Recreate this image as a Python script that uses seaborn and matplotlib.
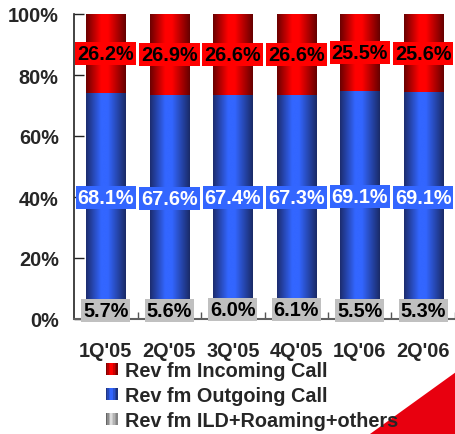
import numpy as np
import pandas as pd
import matplotlib
matplotlib.use("Agg")
import matplotlib.pyplot as plt
import seaborn as sns
from matplotlib.colors import LinearSegmentedColormap
from matplotlib.legend_handler import HandlerBase
from matplotlib.patches import Rectangle, Polygon

# ---- data ----
quarters = ["1Q'05", "2Q'05", "3Q'05", "4Q'05", "1Q'06", "2Q'06"]
incoming = [26.2, 26.9, 26.6, 26.6, 25.5, 25.6]
outgoing = [68.1, 67.6, 67.4, 67.3, 69.1, 69.1]
others = [5.7, 5.6, 6.0, 6.1, 5.5, 5.3]
series_names = ["Rev fm Incoming Call", "Rev fm Outgoing Call", "Rev fm ILD+Roaming+others"]
yticks = [0, 20, 40, 60, 80, 100]
ytick_labels = ["0%", "20%", "40%", "60%", "80%", "100%"]

sns.set_theme(style="white")
plt.rcParams["font.family"] = ["Liberation Sans", "DejaVu Sans"]
plt.rcParams["font.weight"] = "bold"

FS = 14.3

df = pd.DataFrame({"quarter": quarters, "incoming": incoming,
                   "outgoing": outgoing, "others": others})
df["top_out"] = df["others"] + df["outgoing"]
df["top_in"] = df["top_out"] + df["incoming"]

fig = plt.figure(figsize=(4.56, 4.35), dpi=100)
ax = fig.add_axes([74 / 456, 1 - 320 / 435, 381 / 456, 305 / 435])

red_cmap = LinearSegmentedColormap.from_list(
    "r", [(0, "#6a0000"), (0.38, "#ff0000"), (0.55, "#ff0000"), (1, "#650000")])
blue_cmap = LinearSegmentedColormap.from_list(
    "b", [(0, "#1c2c6e"), (0.38, "#3366ff"), (0.55, "#3366ff"), (1, "#1a2a66")])
gray_cmap = LinearSegmentedColormap.from_list(
    "g", [(0, "#505050"), (0.45, "#e0e0e0"), (1, "#7a7a7a")])

layers = [("top_in", red_cmap, 2), ("top_out", blue_cmap, 3), ("others", gray_cmap, 4)]
grad = np.linspace(0, 1, 256).reshape(1, -1)
for col, cmap, z in layers:
    n_before = len(ax.patches)
    sns.barplot(data=df, x="quarter", y=col, color=cmap(0.45), width=0.62,
                ax=ax, errorbar=None, saturation=1)
    for p in ax.patches[n_before:]:
        x0, w, h = p.get_x(), p.get_width(), p.get_height()
        p.set_visible(False)
        ax.imshow(grad, cmap=cmap, extent=(x0, x0 + w, 0, min(h, 100)),
                  aspect="auto", interpolation="bilinear", zorder=z)

ax.set_xlim(-0.5, len(quarters) - 0.5)
ax.set_ylim(0, 100)

# value labels
for i in range(len(quarters)):
    ax.text(i, others[i] / 2, f"{others[i]:.1f}%", ha="center", va="center",
            fontsize=FS, fontweight="bold", color="black", zorder=10,
            bbox=dict(boxstyle="square,pad=0.1", fc="#c0c0c0", ec="none"))
    ax.text(i, others[i] + outgoing[i] / 2, f"{outgoing[i]:.1f}%", ha="center",
            va="center", fontsize=FS, fontweight="bold", color="white", zorder=10,
            bbox=dict(boxstyle="square,pad=0.1", fc="#3366ff", ec="none"))
    ax.text(i, others[i] + outgoing[i] + incoming[i] / 2, f"{incoming[i]:.1f}%",
            ha="center", va="center", fontsize=FS, fontweight="bold", color="black",
            zorder=10, bbox=dict(boxstyle="square,pad=0.1", fc="#ff0000", ec="none"))

# axes styling
ax.set_xlabel("")
ax.set_ylabel("")
ax.set_yticks(yticks)
ax.set_yticklabels(ytick_labels, fontsize=FS, fontweight="bold")
ax.set_xticks(range(len(quarters)))
ax.set_xticklabels(quarters, fontsize=FS, fontweight="bold")
ax.set_xticks(np.arange(0.5, len(quarters), 1), minor=True)
ax.tick_params(axis="y", direction="in", length=7, width=1, color="#222222",
               pad=11, left=True)
ax.tick_params(axis="x", which="major", length=0, pad=16)
ax.tick_params(axis="x", which="minor", direction="in", length=5, width=1,
               color="#555555", bottom=True)
for s in ["top", "right"]:
    ax.spines[s].set_visible(False)
ax.spines["left"].set_color("#222222")
ax.spines["left"].set_linewidth(1.2)
ax.spines["bottom"].set_color("#606060")
ax.spines["bottom"].set_linewidth(1.5)
ax.grid(False)


class GradHandler(HandlerBase):
    def __init__(self, cmap):
        super().__init__()
        self.cmap = cmap

    def create_artists(self, legend, orig_handle, xdescent, ydescent, width,
                       height, fontsize, trans):
        n = 8
        arts = []
        for k in range(n):
            arts.append(Rectangle((-xdescent + k * width / n, -ydescent),
                                  width / n, height, facecolor=self.cmap((k + 0.5) / n),
                                  edgecolor="none", transform=trans))
        return arts


handles = [Rectangle((0, 0), 1, 1) for _ in range(3)]
cmaps = [red_cmap, blue_cmap, gray_cmap]
leg = fig.legend(handles, series_names, loc="upper left",
                 bbox_to_anchor=(106 / 456, 1 - 362 / 435),
                 frameon=False, fontsize=FS, handlelength=0.6, handleheight=0.6,
                 handletextpad=0.35, labelspacing=0.3, borderpad=0, borderaxespad=0,
                 handler_map={h: GradHandler(c) for h, c in zip(handles, cmaps)},
                 prop={"weight": "bold", "size": FS})
leg.set_zorder(10)

tri = Polygon([(370 / 456, 0), (1, 0), (1, (435 - 373) / 435)], closed=True,
              transform=fig.transFigure, facecolor="#e8000f", edgecolor="none",
              zorder=0.5)
fig.patches.append(tri)

fig.savefig("out.png", dpi=100)
